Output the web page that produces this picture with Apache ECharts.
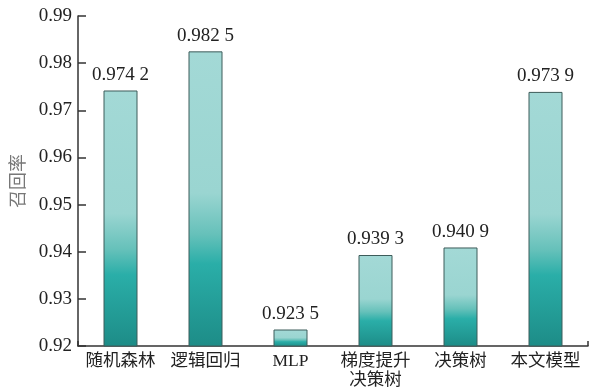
<!DOCTYPE html>
<html>
<head>
<meta charset="utf-8">
<script src="https://cdn.jsdelivr.net/npm/echarts@6/dist/echarts.min.js"></script>
<style>
  html, body { margin: 0; padding: 0; background: #fff; }
  #chart { width: 590px; height: 390px; }
</style>
</head>
<body>
<div id="chart"></div>
<script>
// Recall of each model
const models = ['随机森林', '逻辑回归', 'MLP', '梯度提升\n决策树', '决策树', '本文模型'];
const recall = [0.9742, 0.9825, 0.9235, 0.9393, 0.9409, 0.9739];
const yTicks = { min: 0.92, max: 0.99, step: 0.01 };

const FONT = '"Liberation Serif", "Noto Sans CJK SC", serif';

// "0.9742" -> "0.974 2"
function groupDigits(v) {
  const s = v.toFixed(4);
  return s.slice(0, 5) + ' ' + s.slice(5);
}

const chart = echarts.init(document.getElementById('chart'), null, { renderer: 'canvas' });
chart.setOption({
  animation: false,
  grid: { left: 78, right: 2, top: 16, bottom: 44, outerBoundsMode: 'none' },
  xAxis: {
    type: 'category',
    data: models,
    axisLine: { lineStyle: { color: '#333', width: 1.5 } },
    axisTick: { show: true, inside: true, length: 5, interval: function (i) { return i === models.length - 1; }, lineStyle: { color: '#333', width: 1.5 } },
    axisLabel: { interval: 0, color: '#222', fontFamily: FONT, fontSize: 17.5, lineHeight: 19, margin: 6 }
  },
  yAxis: {
    type: 'value',
    min: yTicks.min,
    max: yTicks.max,
    interval: yTicks.step,
    name: '召回率',
    nameLocation: 'middle',
    nameGap: 47,
    nameRotate: 90,
    nameTextStyle: { color: '#777', fontFamily: FONT, fontSize: 18 },
    splitLine: { show: false },
    axisLine: { show: true, lineStyle: { color: '#333', width: 1.5 } },
    axisTick: { show: true, inside: true, length: 8, lineStyle: { color: '#333', width: 1.5 } },
    axisLabel: { color: '#222', fontFamily: FONT, fontSize: 19, margin: 6, formatter: v => v.toFixed(2) }
  },
  series: [{
    type: 'bar',
    data: recall,
    barWidth: 34,
    itemStyle: {
      borderColor: '#3d5c5a',
      borderWidth: 1,
      color: new echarts.graphic.LinearGradient(0, 0, 0, 1, [
        { offset: 0, color: '#a3d9d6' },
        { offset: 0.48, color: '#9ad5d1' },
        { offset: 0.62, color: '#66c1ba' },
        { offset: 0.72, color: '#2aaea8' },
        { offset: 1, color: '#1d8c87' }
      ])
    },
    label: {
      show: true,
      position: 'top',
      distance: 6,
      color: '#222',
      fontFamily: FONT,
      fontSize: 19,
      formatter: p => groupDigits(p.value)
    }
  }]
});
</script>
</body>
</html>
